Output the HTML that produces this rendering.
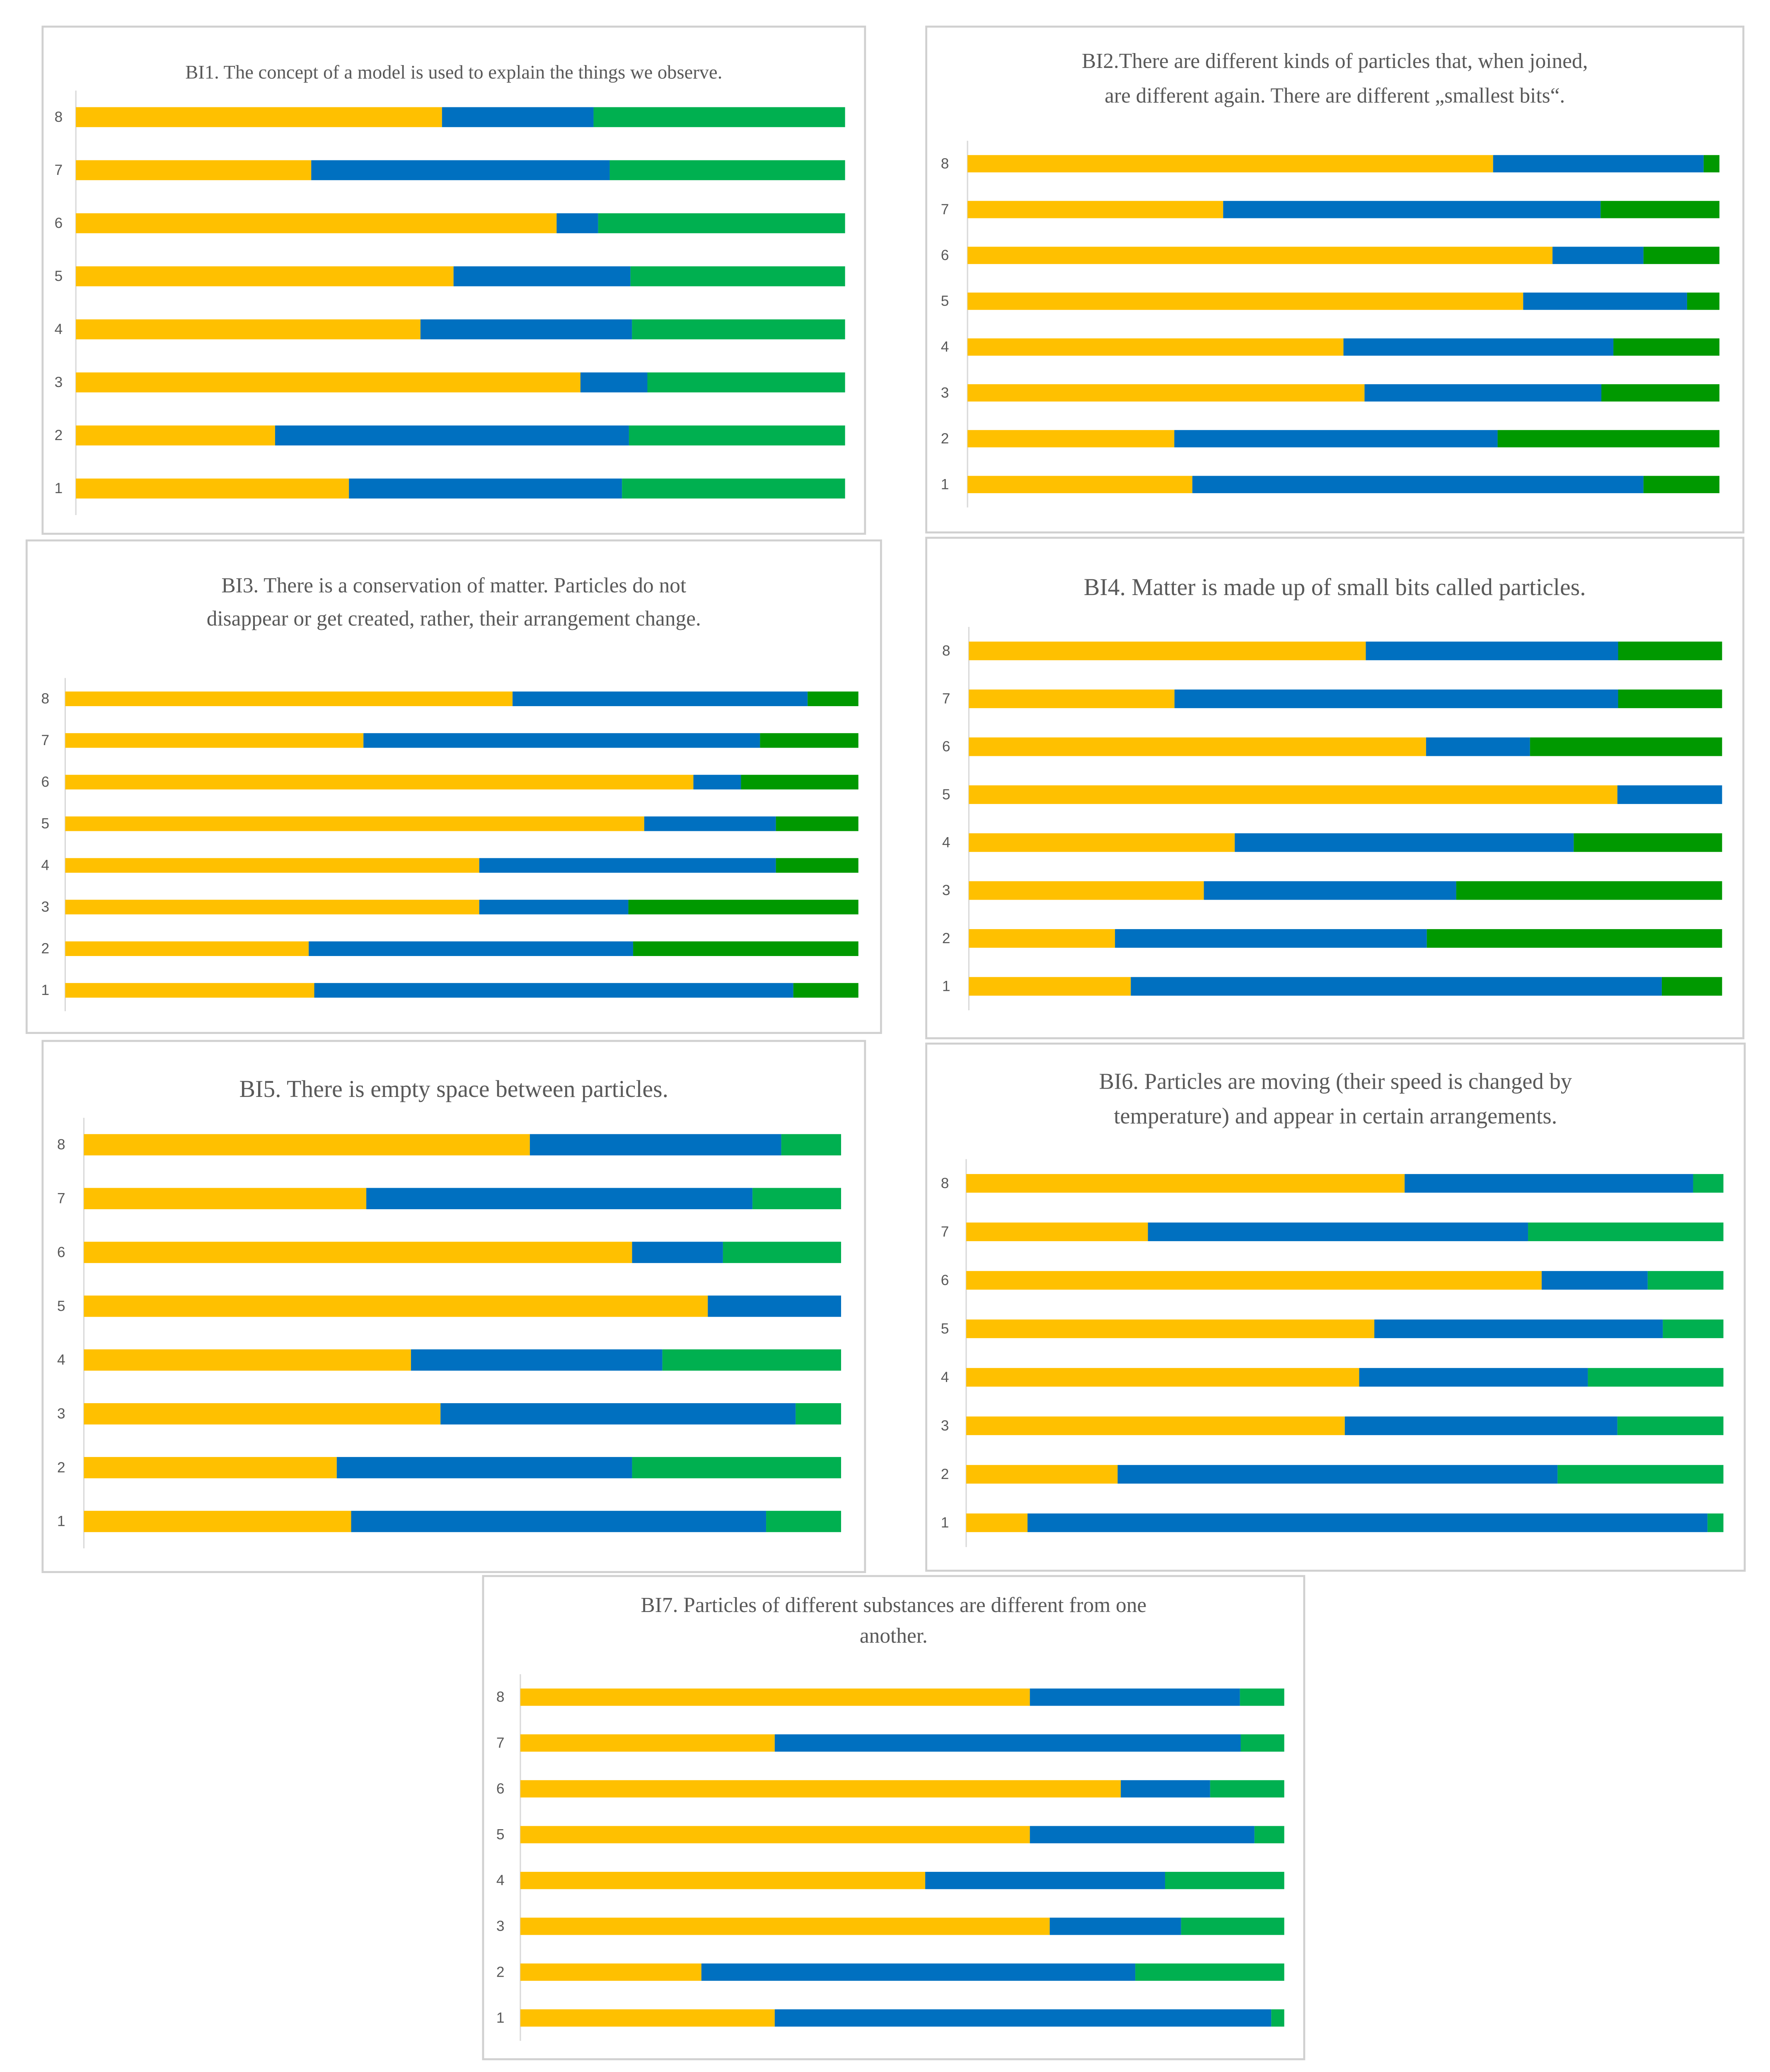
<!DOCTYPE html>
<html><head><meta charset="utf-8">
<style>
html,body{margin:0;padding:0;background:#fff;overflow:hidden;width:4272px;height:5027px;}
svg{display:block;}
text{font-family:"Liberation Serif",serif;fill:#595959;}
.tick{font-family:"Liberation Sans",sans-serif;fill:#595959;}
</style></head>
<body>
<svg id="chart" xmlns="http://www.w3.org/2000/svg" width="4272" height="5027" viewBox="0 0 1330 1565" preserveAspectRatio="none"></svg>
<script>
// Data: rows listed from category 8 (top) down to 1 (bottom); values are percentages
const categories = ["8","7","6","5","4","3","2","1"];
const bi1Yellow=[47.6,30.6,62.5,49.1,44.8,65.6,25.9,35.5];
const bi1Blue  =[19.7,38.8,5.4,23.0,27.5,8.7,46.0,35.5];
const bi1Green =[32.7,30.6,32.1,27.9,27.7,25.7,28.1,29.0];
const bi2Yellow=[69.9,34.0,77.8,73.9,50.0,52.8,27.5,29.9];
const bi2Blue  =[28.0,50.2,12.1,21.8,35.9,31.5,43.0,60.0];
const bi2Green =[2.1,15.8,10.1,4.3,14.1,15.7,29.5,10.1];
const bi3Yellow=[56.4,37.6,79.2,73.0,52.2,52.2,30.7,31.4];
const bi3Blue  =[37.2,50.0,6.0,16.6,37.4,18.8,40.9,60.4];
const bi3Green =[6.4,12.4,14.8,10.4,10.4,29.0,28.4,8.2];
const bi4Yellow=[52.7,27.3,60.7,86.1,35.3,31.2,19.4,21.5];
const bi4Blue  =[33.5,58.9,13.8,13.9,45.0,33.5,41.4,70.5];
const bi4Green =[13.8,13.8,25.5,0,19.7,35.3,39.2,8.0];
const bi5Yellow=[58.9,37.3,72.4,82.4,43.2,47.1,33.4,35.3];
const bi5Blue  =[33.2,51.0,12.0,17.6,33.2,46.9,39.0,54.8];
const bi5Green =[7.9,11.7,15.6,0,23.6,6.0,27.6,9.9];
const bi6Yellow=[57.9,24.0,76.0,53.9,51.9,50.0,20.0,8.1];
const bi6Blue  =[38.1,50.2,14.0,38.1,30.2,36.0,58.1,89.8];
const bi6Green =[4.0,25.8,10.0,8.0,17.9,14.0,21.9,2.1];
const bi7Yellow=[66.7,33.3,78.6,66.7,53.0,69.3,23.7,33.3];
const bi7Blue  =[27.5,61.0,11.7,29.4,31.4,17.2,56.8,65.0];
const bi7Green =[5.8,5.7,9.7,3.9,15.6,13.5,19.5,1.7];

const NS="http://www.w3.org/2000/svg";
const svg=document.getElementById('chart');
function mk(tag,attrs,parent){const e=document.createElementNS(NS,tag);for(const k in attrs)e.setAttribute(k,attrs[k]);(parent||svg).appendChild(e);return e;}

const panels=[
 {id:'bi1',box:[32,20,618,381],titles:["BI1. The concept of a model is used to explain the things we observe."],ty:[59],fs:14.5,x0:57,x1:635,yTop:88,yBot:367,h:15,gc:'#00B050',lx:44,ys:bi1Yellow,bs:bi1Blue,gs:bi1Green},
 {id:'bi2',box:[696,20,614,380],titles:["BI2.There are different kinds of particles that, when joined,","are different again. There are different „smallest bits“."],ty:[51,77],fs:16,x0:727,x1:1292,yTop:123,yBot:364,h:13,gc:'#009900',lx:710,ys:bi2Yellow,bs:bi2Blue,gs:bi2Green},
 {id:'bi3',box:[20,406,642,370],titles:["BI3. There is a conservation of matter. Particles do not","disappear or get created, rather, their arrangement change."],ty:[445,470],fs:16,x0:49,x1:645,yTop:525,yBot:744,h:11,gc:'#009900',lx:34,ys:bi3Yellow,bs:bi3Blue,gs:bi3Green},
 {id:'bi4',box:[696,404,614,376],titles:["BI4. Matter is made up of small bits called particles."],ty:[447],fs:18,x0:728,x1:1294,yTop:489,yBot:741,h:14,gc:'#009900',lx:711,ys:bi4Yellow,bs:bi4Blue,gs:bi4Green},
 {id:'bi5',box:[32,782,618,399],titles:["BI5. There is empty space between particles."],ty:[824],fs:18,x0:63,x1:632,yTop:860,yBot:1143,h:16,gc:'#00B050',lx:46,ys:bi5Yellow,bs:bi5Blue,gs:bi5Green},
 {id:'bi6',box:[696,784,615,396],titles:["BI6. Particles are moving (their speed is changed by","temperature) and appear in certain arrangements."],ty:[818,844],fs:17,x0:726,x1:1295,yTop:889,yBot:1144,h:14,gc:'#00B050',lx:710,ys:bi6Yellow,bs:bi6Blue,gs:bi6Green},
 {id:'bi7',box:[363,1184,617,363],titles:["BI7. Particles of different substances are different from one","another."],ty:[1211,1234],fs:16,x0:391,x1:965,yTop:1275,yBot:1516,h:13,gc:'#00B050',lx:376,ys:bi7Yellow,bs:bi7Blue,gs:bi7Green}
];

panels.forEach(p=>{
  const g=mk('g',{});
  
  
  const r=mk('rect',{x:p.box[0],y:p.box[1],width:p.box[2],height:p.box[3],fill:'#fff',stroke:'#d0d0d0','stroke-width':1.5},g);
  
  
  const cx=p.box[0]+p.box[2]/2;
  p.titles.forEach((t,i)=>{
    const te=mk('text',{x:cx,y:p.ty[i],'text-anchor':'middle','font-size':p.fs},g);
    te.textContent=t;
    
    
  });
  const step=(p.yBot-p.yTop)/(categories.length-1);
  const xs=v=>p.x0+(p.x1-p.x0)*v/100;
  const yc=i=>p.yTop+i*step;
  const ax=mk('line',{x1:p.x0,x2:p.x0,y1:p.yTop-step/2,y2:p.yBot+step/2,stroke:'#d9d9d9','stroke-width':1},g);
  
  
  categories.forEach((c,i)=>{
    const y=yc(i);
    const lt=mk('text',{x:p.lx,y:y+3.5,'text-anchor':'middle','font-size':11,class:'tick'},g);
    lt.textContent=c;
    
    
    const a=p.ys[i],b=p.bs[i],gg=p.gs[i];
    const segs=[[0,a,'#FFC000','yellow'],[a,a+b,'#0070C0','blue'],[a+b,a+b+gg,p.gc,'green']];
    segs.forEach(s=>{
      if(s[1]-s[0]<=0)return;
      const br=mk('rect',{x:xs(s[0]),y:y-p.h/2,width:xs(s[1])-xs(s[0]),height:p.h,fill:s[2]},g);
      
      
    });
  });
});
</script>
</body></html>
